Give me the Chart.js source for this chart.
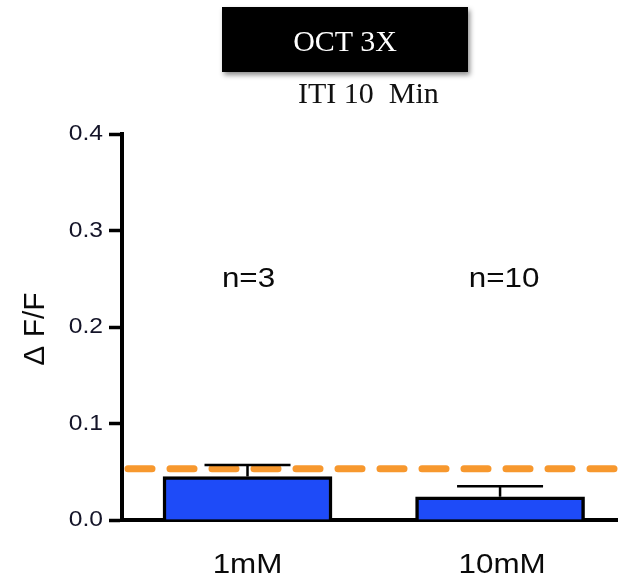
<!DOCTYPE html>
<html>
<head>
  <script src="https://cdn.jsdelivr.net/npm/chart.js@4.4.0/dist/chart.umd.min.js"></script>
  <style>
    body {
      margin: 0;
      background: #fff;
    }

    #wrap {
      position: relative;
      width: 618px;
      height: 584px;
    }

    #box {
      position: absolute;
      left: 222px;
      top: 7px;
      width: 246px;
      height: 65px;
      background: #000;
      box-shadow: 2px 3px 5px rgba(0, 0, 0, 0.45);
      color: #fff;
      font-family: "Liberation Serif", serif;
      font-size: 30px;
      line-height: 67px;
      text-align: center;
    }

    #sub {
      position: absolute;
      left: 222px;
      top: 76px;
      width: 300px;
      height: 28px;
      overflow: hidden;
      font-family: "Liberation Serif", serif;
      font-size: 30px;
      line-height: 34px;
      color: #111;
      padding-left: 76px;
      box-sizing: border-box;
      white-space: pre;
    }

    canvas {
      position: absolute;
      left: 0;
      top: 0;
    }
  </style>
</head>
<body>
  <div id="wrap">
    <canvas id="chart" width="618" height="584"></canvas>
    <div id="box">OCT 3X</div>
    <div id="sub">ITI 10  Min</div>
  </div>

  <script>
    var categories = ['1mM', '10mM'];
    var means = [0.045, 0.024];
    var errors = [0.012, 0.011];
    var nLabels = ['n=3', 'n=10'];
    var baselineValue = 0.053;
    var yTicks = [0.0, 0.1, 0.2, 0.3, 0.4];

    var FONT = '"Liberation Sans", Arial, sans-serif';
    var STRETCH = 1.12;

    // the original text is a little wider than plain Arial
    function wideText(ctx, text, x, y, size, align, color) {
      ctx.save();
      ctx.font = size + 'px ' + FONT;
      ctx.fillStyle = color;
      ctx.textBaseline = 'middle';
      ctx.textAlign = align;
      ctx.translate(x, y);
      ctx.scale(STRETCH, 1);
      ctx.fillText(text, 0, 0);
      ctx.restore();
    }

    var extras = {
      id: 'extras',
      afterDatasetsDraw: function(chart) {
        var ctx = chart.ctx;
        var x = chart.scales.x;
        var y = chart.scales.y;
        var area = chart.chartArea;

        // dashed baseline
        ctx.save();
        ctx.strokeStyle = '#f7982e';
        ctx.lineWidth = 7;
        ctx.lineCap = 'round';
        ctx.setLineDash([24, 18]);
        var by = y.getPixelForValue(baselineValue);
        ctx.beginPath();
        ctx.moveTo(area.left + 6, by);
        ctx.lineTo(area.right + 20, by);
        ctx.stroke();
        ctx.restore();

        // error bars (upper half only)
        ctx.save();
        ctx.strokeStyle = '#000';
        ctx.lineWidth = 2.5;
        for (var i = 0; i < means.length; i++) {
          var cx = x.getPixelForValue(i);
          var y0 = y.getPixelForValue(means[i]);
          var y1 = y.getPixelForValue(means[i] + errors[i]);
          ctx.beginPath();
          ctx.moveTo(cx, y0);
          ctx.lineTo(cx, y1);
          ctx.moveTo(cx - 43, y1);
          ctx.lineTo(cx + 43, y1);
          ctx.stroke();
        }
        ctx.restore();

        for (var j = 0; j < nLabels.length; j++) {
          wideText(ctx, nLabels[j], x.getPixelForValue(j) + (j ? 4 : 1), 279, 28, 'center', '#0a0a0a');
          wideText(ctx, categories[j], x.getPixelForValue(j) + (j ? 2 : 0), 565, 28, 'center', '#0a0a0a');
        }

        y.ticks.forEach(function(t) {
          wideText(ctx, t.value.toFixed(1), 103, y.getPixelForValue(t.value), 22, 'right', '#141428');
        });

        ctx.save();
        ctx.fillStyle = '#0a0a0a';
        ctx.font = '30px ' + FONT;
        ctx.textAlign = 'center';
        ctx.textBaseline = 'middle';
        ctx.translate(36, (area.top + area.bottom) / 2 + 2);
        ctx.rotate(-Math.PI / 2);
        ctx.fillText('\u0394 F/F', 0, 0);
        ctx.restore();
      }
    };

    var chart = new Chart(document.getElementById('chart'), {
      type: 'bar',
      data: {
        datasets: [{
          data: means.map(function(v, i) { return { x: i, y: v }; }),
          backgroundColor: '#1e4bf8',
          borderColor: '#000',
          borderWidth: 3.5,
          borderSkipped: 'bottom',
          barThickness: 169
        }]
      },
      options: {
        responsive: false,
        animation: false,
        events: [],
        layout: { padding: { top: 134, left: 0, right: 0, bottom: 0 } },
        plugins: {
          legend: { display: false },
          tooltip: { enabled: false }
        },
        scales: {
          x: {
            type: 'linear',
            offset: false,
            min: -0.497,
            max: 1.467,
            afterFit: function(s) { s.height = 64; },
            afterBuildTicks: function(s) {
              s.ticks = categories.map(function(c, i) { return { value: i }; });
            },
            grid: { display: false, drawTicks: false, offset: false },
            border: { color: '#000', width: 4 },
            ticks: { display: false }
          },
          y: {
            min: 0,
            max: 0.4,
            afterFit: function(s) { s.width = 122; },
            afterBuildTicks: function(s) {
              s.ticks = yTicks.map(function(v) { return { value: v }; });
            },
            grid: {
              drawOnChartArea: false,
              tickLength: 13,
              tickWidth: 3.5,
              tickColor: '#000'
            },
            border: { color: '#000', width: 4 },
            ticks: { display: false }
          }
        }
      },
      plugins: [extras]
    });
  </script>
</body>
</html>
